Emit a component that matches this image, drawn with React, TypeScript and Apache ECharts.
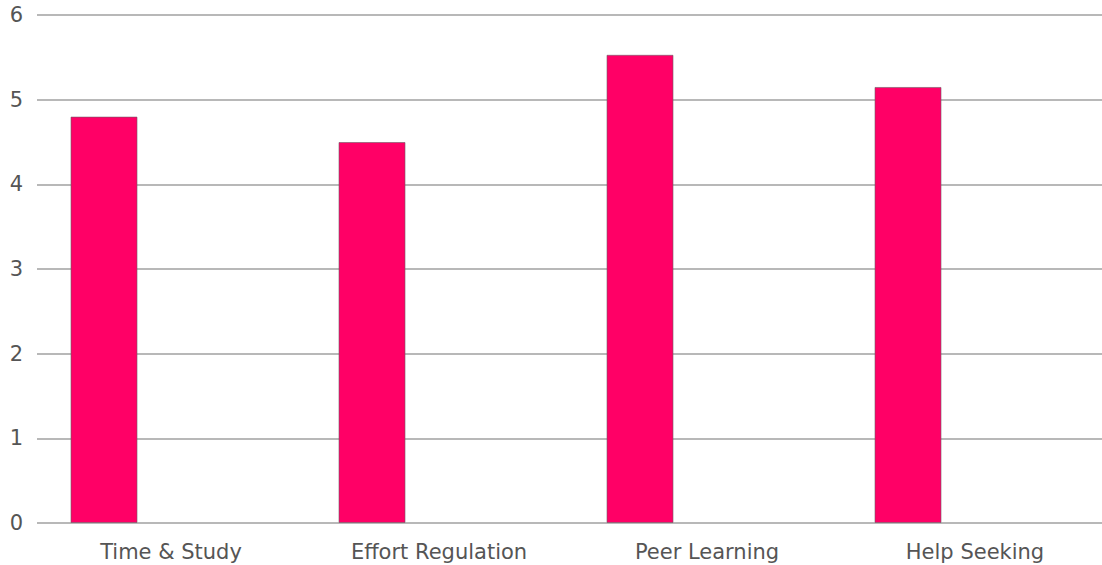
import React, { useEffect, useRef } from "react";
import * as echarts from "echarts";

// Scale scores per self-regulated learning strategy
const categories = ["Time & Study", "Effort Regulation", "Peer Learning", "Help Seeking"];
const scores = [4.8, 4.5, 5.53, 5.15];
// Companion series with no values; it keeps its slot in each category band
const companion = [null, null, null, null];
const yTicks = { min: 0, max: 6, interval: 1 };

export default function App() {
  const ref = useRef<HTMLDivElement>(null);

  useEffect(() => {
    if (!ref.current) return;
    const chart = echarts.init(ref.current, undefined, { renderer: "svg" });
    const font = "'DejaVu Sans', Verdana, sans-serif";
    chart.setOption({
      animation: false,
      backgroundColor: "#ffffff",
      grid: { left: 37, top: 15, width: 1072, height: 508, containLabel: false },
      xAxis: {
        type: "category",
        data: categories,
        axisLine: { show: false },
        axisTick: { show: false },
        axisLabel: { color: "#555555", fontSize: 21, fontFamily: font, margin: 18 },
      },
      yAxis: {
        type: "value",
        min: yTicks.min,
        max: yTicks.max,
        interval: yTicks.interval,
        axisLine: { show: false },
        axisTick: { show: false },
        axisLabel: { color: "#555555", fontSize: 21, fontFamily: font, margin: 14 },
        splitLine: { lineStyle: { color: "#b8b8b8", width: 2 } },
      },
      series: [
        {
          type: "bar",
          data: scores,
          barWidth: 67,
          barGap: "100%",
          itemStyle: { color: "#ff0066", borderColor: "rgba(110,90,100,0.6)", borderWidth: 1 },
        },
        {
          type: "bar",
          data: companion,
          barWidth: 67,
          barGap: "100%",
          itemStyle: { color: "#3366cc" },
        },
      ],
    });
    return () => chart.dispose();
  }, []);

  return (
    <div
      ref={ref}
      style={{ position: "fixed", left: 0, top: 0, width: 1110, height: 565 }}
    />
  );
}
